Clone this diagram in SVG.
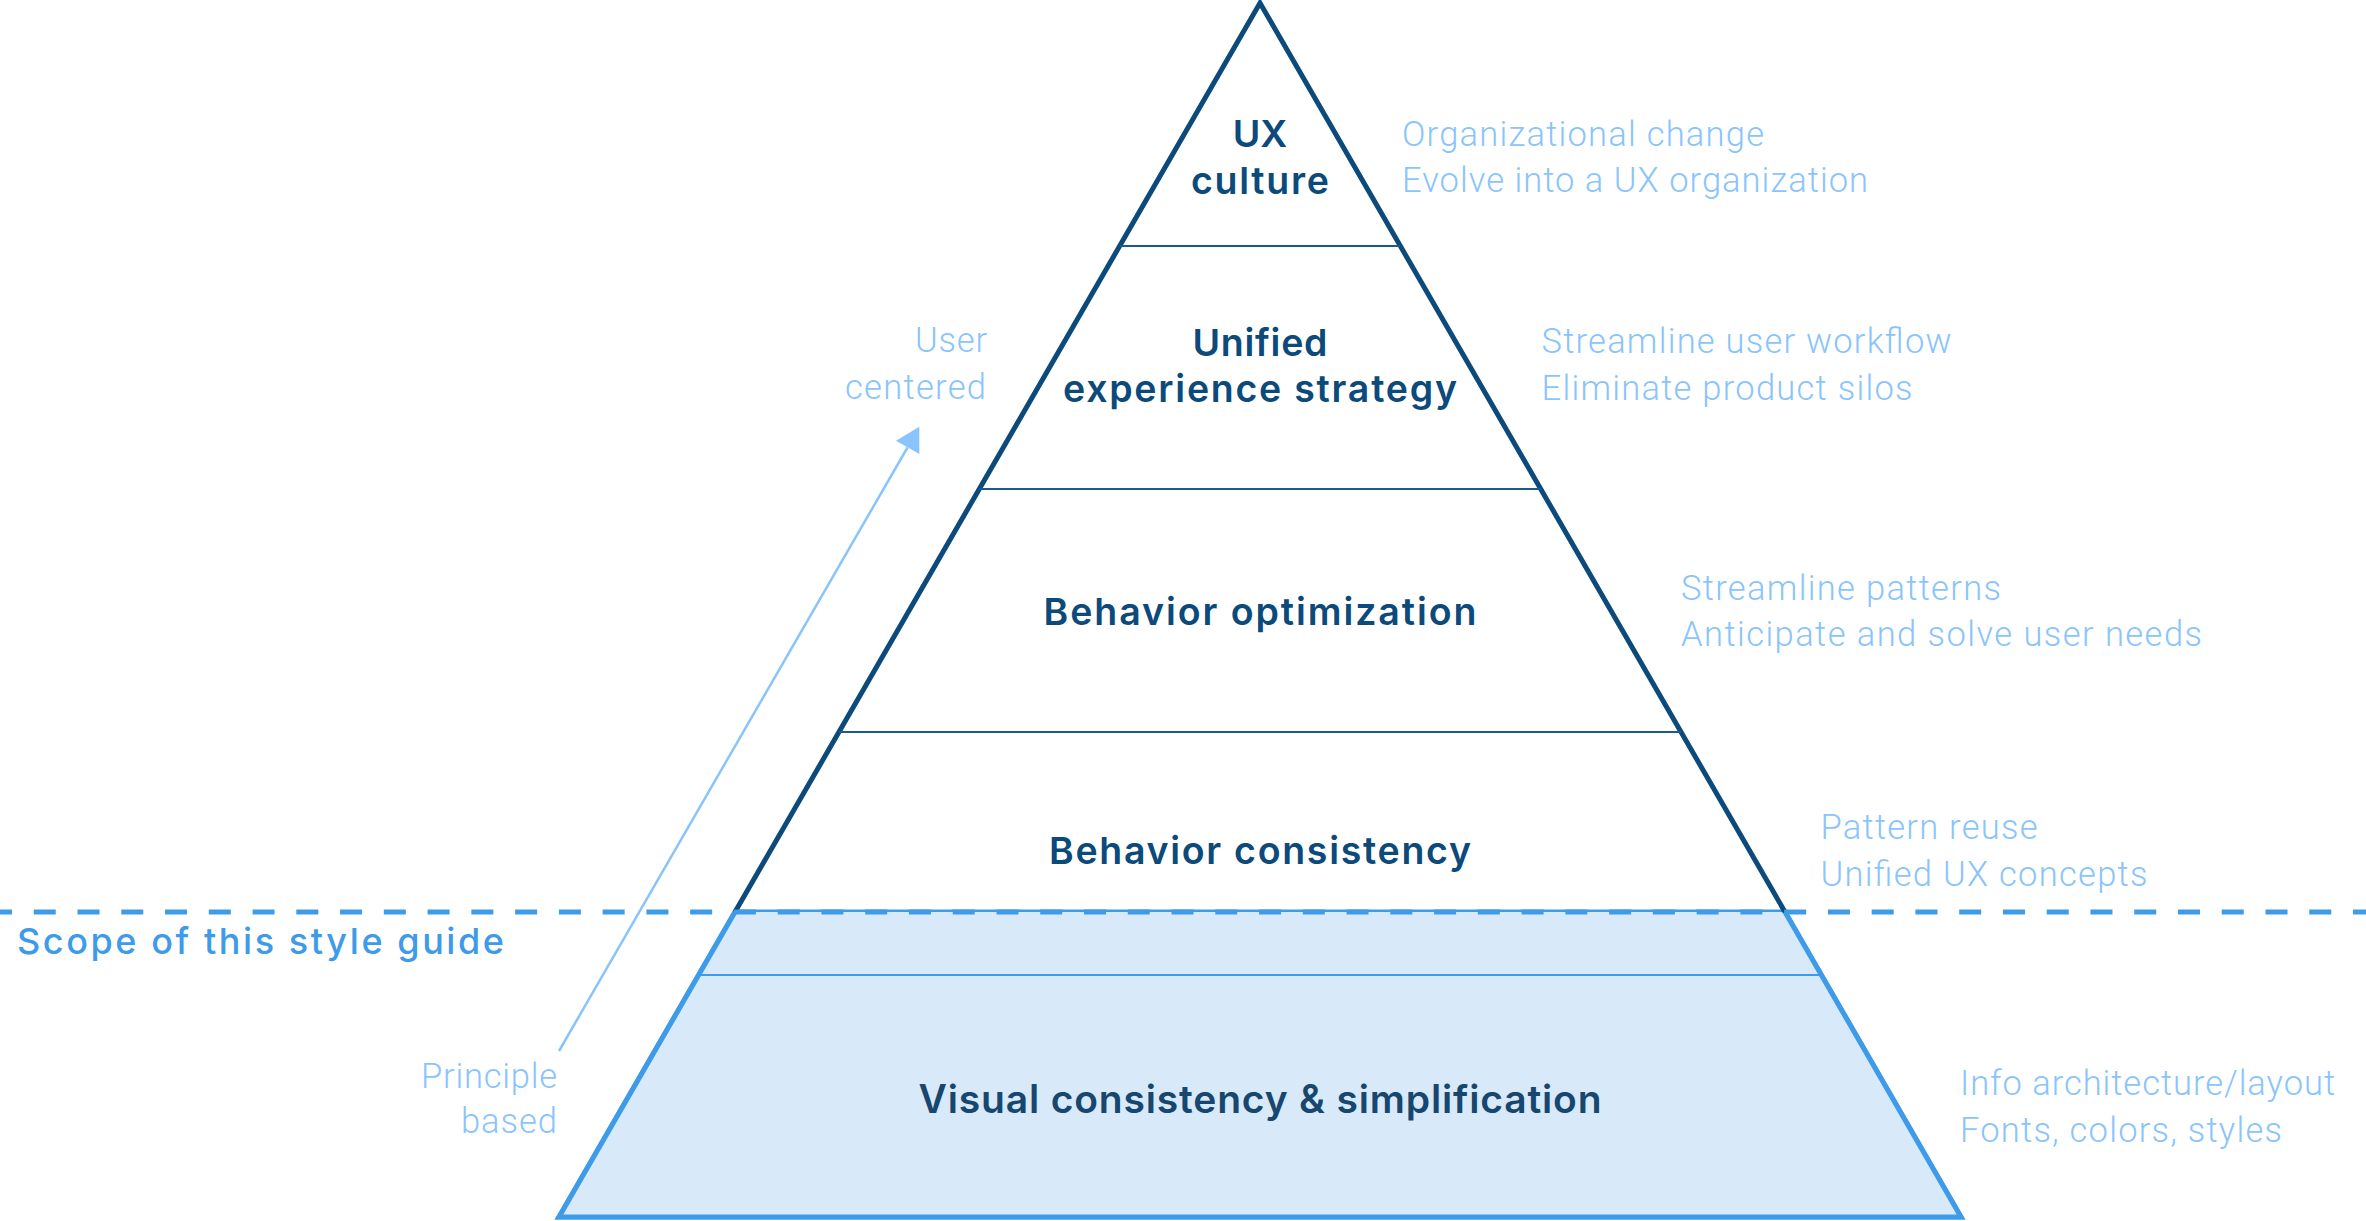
<svg xmlns="http://www.w3.org/2000/svg" width="2366" height="1221" viewBox="0 0 2366 1221">
  <style>
    .edge-dark { fill: none; stroke: #0b4a7a; stroke-width: 5; stroke-linejoin: miter; stroke-miterlimit: 10; }
    .edge-blue { fill: #d8eaf9; stroke: #3d9be9; stroke-width: 5; stroke-linejoin: miter; stroke-miterlimit: 10; }
    .sep-dark { stroke: #1c5a8a; stroke-width: 2; }
    .sep-blue { stroke: #3d9be9; stroke-width: 2; }
    .tier { font-family: Inter, Roboto, "Liberation Sans", sans-serif; font-weight: 600; font-size: 37.5px; fill: #0b4a7a; text-anchor: middle; }
    .note { font-family: Roboto, "Liberation Sans", sans-serif; font-weight: 300; font-size: 34.5px; fill: #8ac4fc; }
    .note-r { text-anchor: end; }
    .scope { font-family: Inter, Roboto, "Liberation Sans", sans-serif; font-weight: 500; font-size: 36px; fill: #3d9be9; }
    .arrow-line { stroke: #8ac4fc; stroke-width: 2.5; fill: none; }
  </style>

  <!-- pyramid body -->
  <g id="pyramid">
    <path class="edge-blue" d="M735,912 L559,1217 L1961,1217 L1785,912 Z" stroke="none"/>
    <path class="edge-blue" d="M735,912 L559,1217 L1961,1217 L1785,912" fill="none"/>
    <path class="edge-dark" d="M735,912 L1260,3 L1785,912"/>
    <line class="sep-dark" x1="1120" y1="246" x2="1400" y2="246"/>
    <line class="sep-dark" x1="979" y1="489" x2="1541" y2="489"/>
    <line class="sep-dark" x1="839" y1="732" x2="1681" y2="732"/>
    <line class="sep-blue" x1="699" y1="975" x2="1821" y2="975"/>
  </g>

  <!-- scope boundary -->
  <g id="scope">
    <line x1="0" y1="912" x2="2366" y2="912" stroke="#3d9be9" stroke-width="5" stroke-dasharray="22 21.76" stroke-dashoffset="10"/>
    <text class="scope" x="17" y="954" textLength="487" lengthAdjust="spacing">Scope of this style guide</text>
  </g>

  <!-- tiers -->
  <g id="tier-ux-culture">
    <text class="tier" x="1260" y="147">UX</text>
    <text class="tier" x="1260" y="194" textLength="138" lengthAdjust="spacing">culture</text>
  </g>
  <g id="tier-unified-strategy">
    <text class="tier" x="1260" y="356" textLength="135" lengthAdjust="spacing">Unified</text>
    <text class="tier" x="1260" y="402" textLength="394" lengthAdjust="spacing">experience strategy</text>
  </g>
  <g id="tier-behavior-optimization">
    <text class="tier" x="1260" y="625" textLength="433" lengthAdjust="spacing">Behavior optimization</text>
  </g>
  <g id="tier-behavior-consistency">
    <text class="tier" x="1260" y="864" textLength="422" lengthAdjust="spacing">Behavior consistency</text>
  </g>
  <g id="tier-visual-consistency">
    <text class="tier" x="1260" y="1113" style="font-size:39px;fill:#17466f" textLength="683" lengthAdjust="spacing">Visual consistency &amp; simplification</text>
  </g>

  <!-- right-hand notes -->
  <g id="note-ux-culture">
    <text class="note" x="1402" y="146" textLength="362" lengthAdjust="spacing">Organizational change</text>
    <text class="note" x="1402" y="192" textLength="466" lengthAdjust="spacing">Evolve into a UX organization</text>
  </g>
  <g id="note-unified-strategy">
    <text class="note" x="1541.5" y="353" textLength="410" lengthAdjust="spacing">Streamline user workflow</text>
    <text class="note" x="1541.5" y="400" textLength="371" lengthAdjust="spacing">Eliminate product silos</text>
  </g>
  <g id="note-behavior-optimization">
    <text class="note" x="1681" y="600" textLength="320" lengthAdjust="spacing">Streamline patterns</text>
    <text class="note" x="1681" y="646" textLength="521" lengthAdjust="spacing">Anticipate and solve user needs</text>
  </g>
  <g id="note-behavior-consistency">
    <text class="note" x="1820.5" y="839" textLength="217" lengthAdjust="spacing">Pattern reuse</text>
    <text class="note" x="1820.5" y="886" textLength="327" lengthAdjust="spacing">Unified UX concepts</text>
  </g>
  <g id="note-visual-consistency">
    <text class="note" x="1960" y="1095" textLength="375" lengthAdjust="spacing">Info architecture/layout</text>
    <text class="note" x="1960" y="1142" textLength="322" lengthAdjust="spacing">Fonts, colors, styles</text>
  </g>

  <!-- left-hand axis labels -->
  <g id="label-user-centered">
    <text class="note note-r" x="987" y="352" textLength="72" lengthAdjust="spacing">User</text>
    <text class="note note-r" x="986" y="399" textLength="141" lengthAdjust="spacing">centered</text>
  </g>
  <g id="label-principle-based">
    <text class="note note-r" x="557" y="1088" textLength="136" lengthAdjust="spacing">Principle</text>
    <text class="note note-r" x="557" y="1133" textLength="96" lengthAdjust="spacing">based</text>
  </g>

  <!-- connectors -->
  <g id="connectors">
    <line class="arrow-line" x1="559" y1="1051" x2="907.5" y2="447.5"/>
    <polygon points="919.3,426.7 896,440.7 919.3,454" fill="#8ac4fc"/>
  </g>
</svg>
